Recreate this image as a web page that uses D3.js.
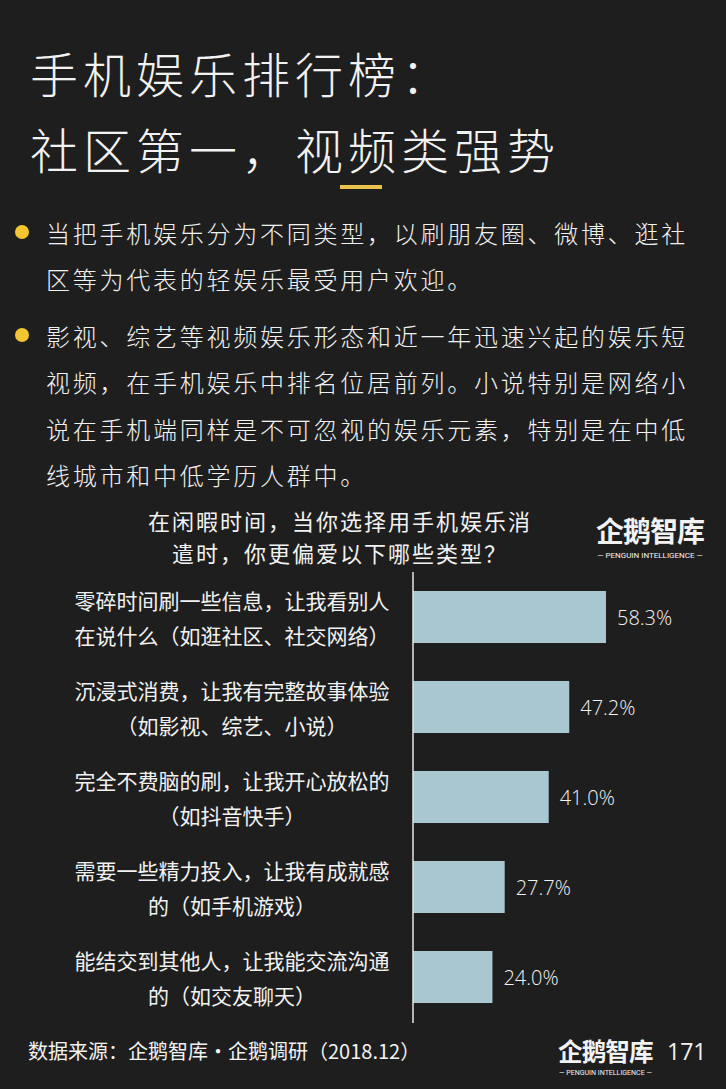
<!DOCTYPE html>
<html>
<head>
<meta charset="utf-8">
<script src="https://cdn.jsdelivr.net/npm/d3@7"></script>
<style>
  html, body { margin: 0; padding: 0; background: #1e1e1e; }
  svg { display: block; }
  text { font-family: "Noto Sans CJK SC", "Noto Sans", sans-serif; fill: #f2f2f2; }
</style>
</head>
<body>
<svg id="chart"></svg>
<script>
// chart data
var categories = [
  ["零碎时间刷一些信息，让我看别人", "在说什么（如逛社区、社交网络）"],
  ["沉浸式消费，让我有完整故事体验", "（如影视、综艺、小说）"],
  ["完全不费脑的刷，让我开心放松的", "（如抖音快手）"],
  ["需要一些精力投入，让我有成就感", "的（如手机游戏）"],
  ["能结交到其他人，让我能交流沟通", "的（如交友聊天）"]
];
var values = [58.3, 47.2, 41.0, 27.7, 24.0];

var titleLines = ["手机娱乐排行榜：", "社区第一，视频类强势"];
var bullets = [
  ["当把手机娱乐分为不同类型，以刷朋友圈、微博、逛社", "区等为代表的轻娱乐最受用户欢迎。"],
  ["影视、综艺等视频娱乐形态和近一年迅速兴起的娱乐短", "视频，在手机娱乐中排名位居前列。小说特别是网络小",
   "说在手机端同样是不可忽视的娱乐元素，特别是在中低", "线城市和中低学历人群中。"]
];
var chartTitle = ["在闲暇时间，当你选择用手机娱乐消", "遣时，你更偏爱以下哪些类型？"];
var source = "数据来源：企鹅智库·企鹅调研（2018.12）";
var pageNo = "171";

var width = 726, height = 1089;
var svg = d3.select('#chart').attr('width', width).attr('height', height);

svg.append('rect').attr('width', width).attr('height', height).attr('fill', '#1e1e1e');

// headline
svg.selectAll('.headline').data(titleLines).enter().append('text')
  .attr('class', 'headline')
  .attr('x', 30)
  .attr('y', function(d, i) { return 72 + i * 76; })
  .attr('dominant-baseline', 'central')
  .style('font-size', '48px')
  .style('font-weight', 300)
  .style('letter-spacing', '5px')
  .text(function(d) { return d; });

svg.append('rect')
  .attr('x', 340).attr('y', 185).attr('width', 42).attr('height', 4)
  .attr('fill', '#e8c24a');

// bullet paragraphs
var bulletTop = [232, 335];
bullets.forEach(function(lines, b) {
  svg.append('circle')
    .attr('cx', 22).attr('cy', bulletTop[b]).attr('r', 7)
    .attr('fill', '#f2c531');
  svg.selectAll('.bl' + b).data(lines).enter().append('text')
    .attr('class', 'bl' + b)
    .attr('x', 46)
    .attr('y', function(d, i) { return bulletTop[b] + i * 46.5; })
    .attr('dominant-baseline', 'central')
    .style('font-size', '24px')
    .style('font-weight', 300)
    .style('letter-spacing', '2.75px')
    .text(function(d) { return d; });
});

// chart title
svg.selectAll('.ctitle').data(chartTitle).enter().append('text')
  .attr('class', 'ctitle')
  .attr('x', 340)
  .attr('y', function(d, i) { return 520 + i * 32; })
  .attr('text-anchor', 'middle')
  .attr('dominant-baseline', 'central')
  .style('font-size', '22px')
  .style('letter-spacing', '2px')
  .text(function(d) { return d; });

// logo helper
function logo(g, x, y, s) {
  g.append('text')
    .attr('x', x).attr('y', y)
    .attr('dominant-baseline', 'central')
    .style('font-size', (28 * s) + 'px')
    .style('font-weight', 'bold')
    .style('letter-spacing', '-1px')
    .text('企鹅智库');
  g.append('text')
    .attr('x', x + 54 * s).attr('y', y + 25 * s)
    .attr('text-anchor', 'middle')
    .attr('dominant-baseline', 'central')
    .style('font-size', (8 * s) + 'px')
    .style('font-family', 'Roboto, sans-serif')
    .text('— PENGUIN INTELLIGENCE —');
}
logo(svg.append('g'), 596, 530, 1);

// scales
var x = d3.scaleLinear().domain([0, 100]).range([413, 413 + 331]);
var y = d3.scaleBand().domain(d3.range(values.length))
  .range([572, 1022]).paddingInner(0.422).paddingOuter(0.211);

svg.selectAll('.bar').data(values).enter().append('rect')
  .attr('class', 'bar')
  .attr('x', x(0))
  .attr('y', function(d, i) { return y(i); })
  .attr('width', function(d) { return x(d) - x(0); })
  .attr('height', y.bandwidth())
  .attr('fill', '#a9c7d0');

svg.append('line')
  .attr('x1', x(0)).attr('x2', x(0))
  .attr('y1', 572).attr('y2', 1023)
  .attr('stroke', '#e6e6e6').attr('stroke-width', 1.5);

svg.selectAll('.value').data(values).enter().append('text')
  .attr('class', 'value')
  .attr('x', function(d) { return x(d) + 11; })
  .attr('y', function(d, i) { return y(i) + y.bandwidth() / 2; })
  .attr('dominant-baseline', 'central')
  .style('font-size', '20px')
  .style('font-family', '"Open Sans", sans-serif')
  .style('font-weight', 300)
  .text(function(d) { return d.toFixed(1) + '%'; });

var labels = svg.selectAll('.label').data(categories).enter().append('g')
  .attr('class', 'label');
labels.selectAll('text').data(function(d, i) { return d.map(function(t) { return {t: t, i: i}; }); })
  .enter().append('text')
  .attr('x', 232)
  .attr('y', function(d, j) { return y(d.i) + y.bandwidth() / 2 + (j === 0 ? -17.5 : 17.5); })
  .attr('text-anchor', 'middle')
  .attr('dominant-baseline', 'central')
  .style('font-size', '21px')
  .text(function(d) { return d.t; });

// footer
svg.append('text')
  .attr('x', 28).attr('y', 1050)
  .attr('dominant-baseline', 'central')
  .style('font-size', '20px')
  .text(source);

logo(svg.append('g'), 558, 1050, 0.88);

svg.append('text')
  .attr('x', 667).attr('y', 1051)
  .attr('dominant-baseline', 'central')
  .style('font-size', '23px')
  .style('font-family', '"Open Sans", sans-serif')
  .text(pageNo);
</script>
</body>
</html>
